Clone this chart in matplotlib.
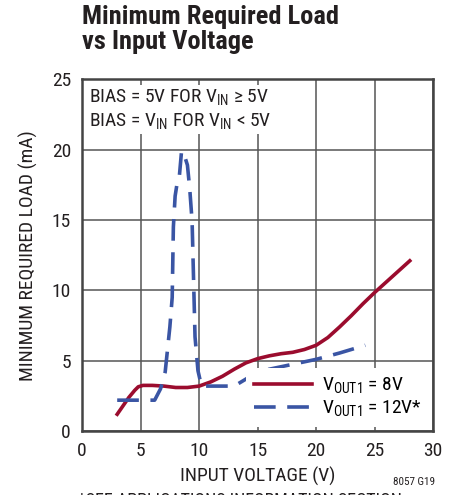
import matplotlib
matplotlib.use("Agg")
from matplotlib import pyplot as plt
from matplotlib import font_manager

# data
vin_8v = [3.0, 3.5, 4.0, 4.5, 4.8, 5.2, 6.0, 7.0, 8.0, 9.0, 10.0, 11.0, 12.0, 13.0, 14.0, 15.0,
          16.0, 17.0, 18.0, 19.0, 20.0, 21.0, 22.0, 23.0, 24.0, 25.0, 26.0, 27.0, 28.0]
load_8v = [1.2, 1.8, 2.4, 2.9, 3.15, 3.25, 3.25, 3.2, 3.1, 3.1, 3.2, 3.5, 3.9, 4.4, 4.85, 5.15,
           5.35, 5.5, 5.6, 5.8, 6.1, 6.65, 7.4, 8.2, 9.05, 9.85, 10.6, 11.35, 12.1]

vin_12v = [3.0, 6.2, 6.7, 7.1, 7.5, 7.7, 7.8, 7.95, 8.1, 8.3, 8.5, 8.7, 9.0, 9.2, 9.4, 9.65,
           9.9, 10.2, 11.0, 12.0, 13.0, 14.0, 15.0, 16.0, 18.0, 20.0, 22.0, 24.2]
load_12v = [2.2, 2.2, 3.0, 4.2, 7.4, 9.5, 14.5, 16.7, 17.5, 18.0, 19.9, 19.7, 18.9, 17.2, 14.9, 6.7,
            4.3, 3.2, 3.2, 3.2, 3.2, 3.7, 4.2, 4.4, 4.75, 5.1, 5.55, 6.1]

xticks = [0, 5, 10, 15, 20, 25, 30]
yticks = [0, 5, 10, 15, 20, 25]

fonts = font_manager.fontManager.ttflist
names = {f.name for f in fonts}
fam = "Liberation Sans"
for cand in ["Roboto Condensed", "Archivo Narrow", "Liberation Sans Narrow"]:
    if cand in names:
        fam = cand
        break
bold_fam = fam
if not any(f.name == fam and f.weight >= 600 for f in fonts):
    for cand in ["Roboto Condensed", "Archivo Narrow", "Saira Condensed", "Liberation Sans"]:
        if any(f.name == cand and f.weight >= 600 for f in fonts):
            bold_fam = cand
            break
plt.rcParams['font.family'] = [fam, 'DejaVu Sans']
plt.rcParams['mathtext.fontset'] = 'custom'
plt.rcParams['mathtext.rm'] = fam

red = "#9b0c2e"
blue = "#3a55a4"
ink = "#231f20"

fig = plt.figure(figsize=(4.56, 4.95), dpi=100)
ax = fig.add_axes([0.180, 0.129, 0.770, 0.711])

fig.text(0.18, 0.99, "Minimum Required Load\nvs Input Voltage", ha='left', va='top',
         fontsize=19, fontweight='bold', family=[bold_fam, 'DejaVu Sans'], color=ink,
         linespacing=1.05)

ax.plot(vin_8v, load_8v, color=red, lw=2.6, label="V$_{\\mathregular{OUT1}}$ = 8V", zorder=3)
ax.plot(vin_12v, load_12v, color=blue, lw=2.6, dashes=(6, 3.2),
        label="V$_{\\mathregular{OUT1}}$ = 12V*", zorder=3)

ax.set_xlim(0, 30)
ax.set_ylim(0, 25)
ax.set_xticks(xticks)
ax.set_yticks(yticks)
ax.grid(True, color="#555555", lw=1.1)
ax.set_axisbelow(True)
ax.tick_params(length=0, labelsize=14, pad=8, colors=ink)
for s in ax.spines.values():
    s.set_color("#444444")
    s.set_linewidth(1.8)

ax.set_xlabel("INPUT VOLTAGE (V)", fontsize=14, color=ink, labelpad=5)
ax.set_ylabel("MINIMUM REQUIRED LOAD (mA)", fontsize=14, color=ink, labelpad=10)

ax.text(0.02, 0.975, "BIAS = 5V FOR V$_{\\mathregular{IN}}$ \u2265 5V\nBIAS = V$_{\\mathregular{IN}}$ FOR V$_{\\mathregular{IN}}$ < 5V",
        transform=ax.transAxes, ha='left', va='top', fontsize=14, color=ink,
        linespacing=1.2, zorder=4,
        bbox=dict(facecolor='white', edgecolor='none', pad=2))

leg = ax.legend(loc='lower right', fontsize=14, frameon=True, handlelength=3.0,
                borderaxespad=0.2, labelspacing=0.15, handletextpad=0.5)
leg.get_frame().set_edgecolor('none')
leg.get_frame().set_facecolor('white')
leg.get_frame().set_alpha(1)

fig.text(0.955, 0.027, "8057 G19", ha='right', va='center', fontsize=8, color=ink)
# footnote, cut off by the bottom edge as in the reference
fig.text(0.171, 0.006, "*SEE APPLICATIONS INFORMATION SECTION", ha='left', va='top',
         fontsize=13, color=ink)

fig.savefig("out.png", dpi=100)
